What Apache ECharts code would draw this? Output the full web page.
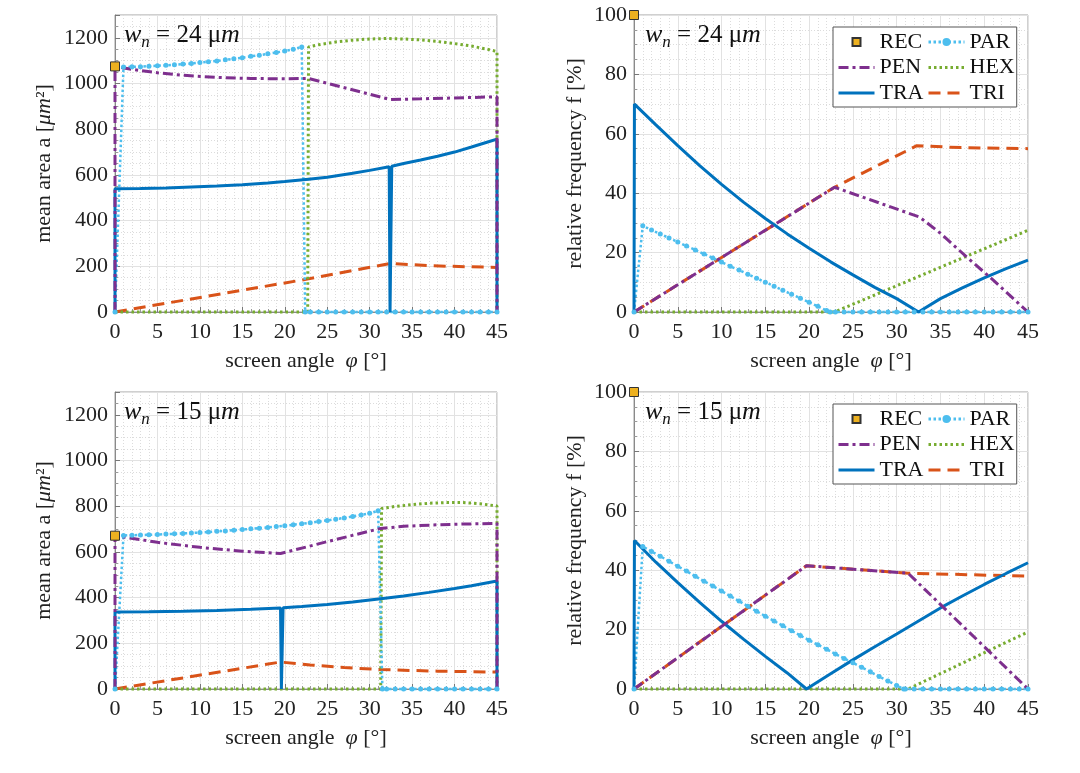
<!DOCTYPE html>
<html><head><meta charset="utf-8">
<script src="https://cdn.jsdelivr.net/npm/echarts@6/dist/echarts.min.js"></script>
<style>html,body{margin:0;padding:0;background:#fff}#c{width:1080px;height:773px}</style>
</head><body><div id="c"></div>
<script>
// ---------- tick labels ----------
const X_TICKS = [0, 5, 10, 15, 20, 25, 30, 35, 40, 45];
const AREA_TICKS = [0, 200, 400, 600, 800, 1000, 1200];
const FREQ_TICKS = [0, 20, 40, 60, 80, 100];
const AREA_MAX = 1300;
const SERIES_NAMES = ['REC', 'PEN', 'TRA', 'PAR', 'HEX', 'TRI'];
const WIDTHS = ['24', '15'];

// ---------- w_n = 24 µm : mean area a [µm²] ----------
const area24_REC = [[0, 1075]];
const area24_PAR = [[0,0],[1,1072],[2,1073],[3,1074],[4,1076],[5,1078],[6,1080],[7,1082],[8,1085],[9,1088],[10,1092],[11,1095],[12,1099],[13,1104],[14,1108],[15,1113],[16,1119],[17,1124],[18,1130],[19,1136],[20,1142],[21,1150],[22,1160],[22.4,0],[23,0],[24,0],[25,0],[26,0],[27,0],[28,0],[29,0],[30,0],[31,0],[32,0],[33,0],[34,0],[35,0],[36,0],[37,0],[38,0],[39,0],[40,0],[41,0],[42,0],[43,0],[44,0],[45,0]];
const area24_PEN = [[0,0],[0,1075],[2,1062],[5,1047],[8,1036],[12,1027],[16,1022],[20,1021],[22.8,1022],[32.4,930],[36,933],[40,937],[45,942],[45,0]];
const area24_HEX = [[0,0],[22.7,0],[22.8,1160],[24,1170],[26,1182],[28,1190],[30,1195],[32,1197],[34,1195],[36,1191],[38,1184],[40,1175],[42,1164],[44,1149],[45,1140],[45,0]];
const area24_TRA = [[0,0],[0,540],[3,541],[6,543],[9,547],[12,551],[15,557],[18,565],[20,571],[22.8,581],[25,590],[28,607],[30,620],[32.3,636],[32.4,0],[32.6,638],[34,650],[36,665],[38,682],[40,700],[42,722],[44,745],[45,757],[45,0]];
const area24_TRI = [[0,0],[22.8,145],[32.4,212],[37.5,202],[45,195]];

// ---------- w_n = 24 µm : relative frequency f [%] ----------
const freq24_REC = [[0, 100]];
const freq24_PAR = [[0,0],[1,29],[2,27.6],[3,26.3],[4,24.9],[5,23.6],[6,22.2],[7,20.9],[8,19.5],[9,18.2],[10,16.8],[11,15.4],[12,14.1],[13,12.7],[14,11.4],[15,10.0],[16,8.7],[17,7.3],[18,6.0],[19,4.6],[20,3.3],[21,1.9],[22,0.5],[22.4,0],[23,0],[24,0],[25,0],[26,0],[27,0],[28,0],[29,0],[30,0],[31,0],[32,0],[33,0],[34,0],[35,0],[36,0],[37,0],[38,0],[39,0],[40,0],[41,0],[42,0],[43,0],[44,0],[45,0]];
const freq24_PEN = [[0,0],[22.9,42],[32.6,32],[35,26.5],[38,18.5],[41,10.8],[45,0]];
const freq24_HEX = [[0,0],[22.9,0],[45,27.5]];
const freq24_TRA = [[0,0],[0.05,70],[2.5,63],[5,56],[7.5,49.3],[10,43],[12.5,37],[15,31.5],[17.5,26.3],[20,21.5],[22.5,16.8],[25,12.5],[27.5,8.3],[30,4.5],[32.5,0],[35,4.5],[37.5,8.1],[40,11.5],[42.5,14.6],[45,17.5]];
const freq24_TRI = [[0,0],[22.9,42],[32.3,56],[36,55.5],[40,55.2],[45,55]];

// ---------- w_n = 15 µm : mean area a [µm²] ----------
const area15_REC = [[0, 671]];
const area15_PAR = [[0,0],[1,672],[2,673],[3,674],[4,675],[5,676],[6,678],[7,679],[8,681],[9,683],[10,685],[11,687],[12,690],[13,692],[14,695],[15,698],[16,701],[17,704],[18,707],[19,711],[20,715],[21,719],[22,723],[23,728],[24,733],[25,738],[26,743],[27,749],[28,755],[29,762],[30,769],[31,780],[31.5,0],[32,0],[33,0],[34,0],[35,0],[36,0],[37,0],[38,0],[39,0],[40,0],[41,0],[42,0],[43,0],[44,0],[45,0]];
const area15_PEN = [[0,0],[0,671],[5,642],[10,620],[15,603],[19.5,593],[25,645],[31.3,703],[34,712],[37.5,718],[41,722],[45,725],[45,0]];
const area15_HEX = [[0,0],[31.3,0],[31.4,790],[33,799],[35,807],[37,813],[39,816],[41,816],[43,811],[45,801],[45,0]];
const area15_TRA = [[0,0],[0,337],[4,338],[8,340],[12,344],[16,349],[19.5,355],[19.6,0],[19.8,356],[22,361],[25,370],[28,381],[31.3,395],[34,407],[37,423],[40,440],[42,452],[45,473],[45,0]];
const area15_TRI = [[0,0],[19.5,118],[23,105],[27,94],[31.3,85],[38,78],[45,74]];

// ---------- w_n = 15 µm : relative frequency f [%] ----------
const freq15_REC = [[0, 100]];
const freq15_PAR = [[0,0],[1,48],[2,46.3],[3,44.7],[4,43.0],[5,41.3],[6,39.7],[7,38.0],[8,36.3],[9,34.7],[10,33.0],[11,31.3],[12,29.6],[13,27.9],[14,26.2],[15,24.5],[16,22.9],[17,21.3],[18,19.6],[19,18.0],[20,16.4],[21,14.9],[22,13.4],[23,11.8],[24,10.3],[25,8.8],[26,7.3],[27,5.8],[28,4.2],[29,2.7],[30,1.2],[30.8,0],[31,0],[32,0],[33,0],[34,0],[35,0],[36,0],[37,0],[38,0],[39,0],[40,0],[41,0],[42,0],[43,0],[44,0],[45,0]];
const freq15_PEN = [[0,0],[19.7,41.5],[31.3,39],[45,0]];
const freq15_HEX = [[0,0],[31.3,0],[45,19.2]];
const freq15_TRA = [[0,0],[0.05,50],[2.5,42.7],[5,35.8],[7.5,29.2],[10,22.8],[12.5,16.8],[15,11],[17.5,5.4],[19.7,0],[22.5,5.2],[25,9.8],[27.5,14.2],[30,18.5],[32.5,22.9],[35,27.3],[37.5,31.3],[40,35.2],[42.5,38.9],[45,42.5]];
const freq15_TRI = [[0,0],[19.7,41.5],[31.3,39],[38,38.5],[45,38]];

// ---------- layout / style ----------
const FONT = 'Liberation Serif';
const panelData = [
  {REC: area24_REC, PEN: area24_PEN, TRA: area24_TRA, PAR: area24_PAR, HEX: area24_HEX, TRI: area24_TRI},
  {REC: freq24_REC, PEN: freq24_PEN, TRA: freq24_TRA, PAR: freq24_PAR, HEX: freq24_HEX, TRI: freq24_TRI},
  {REC: area15_REC, PEN: area15_PEN, TRA: area15_TRA, PAR: area15_PAR, HEX: area15_HEX, TRI: area15_TRI},
  {REC: freq15_REC, PEN: freq15_PEN, TRA: freq15_TRA, PAR: freq15_PAR, HEX: freq15_HEX, TRI: freq15_TRI}
];
const grids = [
  {left: 115, top: 15, width: 382, height: 297},
  {left: 634, top: 15, width: 394, height: 297},
  {left: 115, top: 392, width: 382, height: 297},
  {left: 634, top: 392, width: 394, height: 297}
];
const CLR = {REC: '#EDB120', PEN: '#7E2F8E', TRA: '#0072BD', PAR: '#4DBEEE', HEX: '#77AC30', TRI: '#D95319'};
const STY = {
  REC: {type: 'line', symbol: 'rect', symbolSize: 9, showSymbol: true, z: 6, itemStyle: {color: CLR.REC, borderColor: '#333', borderWidth: 1}, lineStyle: {color: 'rgba(0,0,0,0)', width: 0}},
  PEN: {type: 'line', symbol: 'none', z: 3, itemStyle: {color: CLR.PEN}, lineStyle: {color: CLR.PEN, width: 3, type: [10, 4, 3, 4]}},
  TRA: {type: 'line', symbol: 'none', z: 3, itemStyle: {color: CLR.TRA}, lineStyle: {color: CLR.TRA, width: 3, type: 'solid'}},
  PAR: {type: 'line', symbol: 'circle', symbolSize: 5, showSymbol: true, showAllSymbol: true, z: 3, itemStyle: {color: CLR.PAR}, lineStyle: {color: CLR.PAR, width: 2.5, type: [2.5, 2.5]}},
  HEX: {type: 'line', symbol: 'none', z: 3, itemStyle: {color: CLR.HEX}, lineStyle: {color: CLR.HEX, width: 3, type: [2.5, 3]}},
  TRI: {type: 'line', symbol: 'none', z: 3, itemStyle: {color: CLR.TRI}, lineStyle: {color: CLR.TRI, width: 3, type: [12, 7]}}
};

const labelStyle = {fontFamily: FONT, fontSize: 22, color: '#222'};
const richI = {i: {fontFamily: FONT, fontSize: 22, fontStyle: 'italic', color: '#222'}};
const plain = v => String(v);

const xAxes = grids.map((g, i) => ({
  gridIndex: i, type: 'value', min: X_TICKS[0], max: X_TICKS[X_TICKS.length - 1], interval: X_TICKS[1] - X_TICKS[0],
  axisLine: {show: true, lineStyle: {color: '#8a8a8a'}},
  axisTick: {show: true, inside: true, length: 5, lineStyle: {color: '#777'}},
  minorTick: {show: true, splitNumber: 5, length: 3, lineStyle: {color: '#999'}},
  splitLine: {show: true, lineStyle: {color: '#e2e2e2', width: 1}},
  minorSplitLine: {show: true, lineStyle: {color: '#dcdcdc', width: 1, type: [1, 2]}},
  axisLabel: Object.assign({margin: 9, formatter: plain}, labelStyle),
  name: 'screen angle  {i|φ} [°]', nameLocation: 'middle', nameGap: 38,
  nameTextStyle: Object.assign({rich: richI}, labelStyle)
}));
const yAxes = grids.map((g, i) => {
  const isArea = i % 2 === 0;
  const ticks = isArea ? AREA_TICKS : FREQ_TICKS;
  return {
    gridIndex: i, type: 'value', min: 0, max: isArea ? AREA_MAX : ticks[ticks.length - 1], interval: ticks[1] - ticks[0],
    axisLine: {show: true, lineStyle: {color: '#8a8a8a'}},
    axisTick: {show: true, inside: true, length: 5, lineStyle: {color: '#777'}},
    minorTick: {show: true, splitNumber: 4, length: 3, lineStyle: {color: '#999'}},
    splitLine: {show: true, lineStyle: {color: '#e2e2e2', width: 1}},
    minorSplitLine: {show: true, lineStyle: {color: '#dcdcdc', width: 1, type: [1, 2]}},
    axisLabel: Object.assign({margin: 7, formatter: plain, showMaxLabel: isArea ? false : true}, labelStyle),
    name: isArea ? 'mean area a [{i|μm}²]' : 'relative frequency f [%]',
    nameLocation: 'middle', nameGap: isArea ? 60 : 48,
    nameTextStyle: Object.assign({rich: richI}, labelStyle)
  };
});

const series = [];
panelData.forEach((pd, i) => {
  SERIES_NAMES.slice().reverse().forEach(name => {
    series.push(Object.assign({}, STY[name], {
      name: name, xAxisIndex: i, yAxisIndex: i, data: pd[name], clip: false, animation: false
    }));
  });
});

const hideSym = {color: 'rgba(0,0,0,0)', borderColor: 'rgba(0,0,0,0)', borderWidth: 0};
const legendItems = SERIES_NAMES.map(n => {
  if (n === 'REC') return {name: n, lineStyle: {color: 'rgba(0,0,0,0)', width: 0}};
  if (n === 'PAR') return {name: n, itemStyle: {borderWidth: 0}};
  return {name: n, itemStyle: hideSym};
});
const legendBase = {
  orient: 'vertical', left: 833, height: 82, itemWidth: 36, itemHeight: 10, itemGap: 3.5,
  padding: [4, 2, 3, 4], backgroundColor: '#fff', borderColor: '#555', borderWidth: 1,
  selectedMode: false, data: legendItems,
  lineStyle: {width: 3},
  textStyle: {fontFamily: FONT, fontSize: 22, color: '#111', padding: [0, 3, 0, 0]}
};
const legends = [
  Object.assign({}, legendBase, {top: 27}),
  Object.assign({}, legendBase, {top: 404})
];

const annPos = [[124, 22, 0], [645, 22, 0], [124, 399, 1], [645, 399, 1]];
const graphics = annPos.map(p => ({
  type: 'text', left: p[0], top: p[1], z: 10,
  style: {
    text: '{w|w}{n|n}{t| = ' + WIDTHS[p[2]] + ' μ}{w|m}',
    fill: '#111',
    rich: {
      w: {fontFamily: FONT, fontStyle: 'italic', fontSize: 26, lineHeight: 32, fill: '#111'},
      n: {fontFamily: FONT, fontStyle: 'italic', fontSize: 17, lineHeight: 17, verticalAlign: 'bottom', fill: '#111'},
      t: {fontFamily: FONT, fontSize: 25, lineHeight: 32, fill: '#111'}
    }
  }
}));

const chart = echarts.init(document.getElementById('c'), null, {renderer: 'canvas'});
chart.setOption({
  animation: false,
  backgroundColor: '#fff',
  grid: grids.map(g => Object.assign({show: true, borderColor: '#a0a0a0', borderWidth: 1, backgroundColor: 'transparent'}, g)),
  xAxis: xAxes,
  yAxis: yAxes,
  legend: legends,
  graphic: graphics,
  series: series
});
</script>
</body></html>
